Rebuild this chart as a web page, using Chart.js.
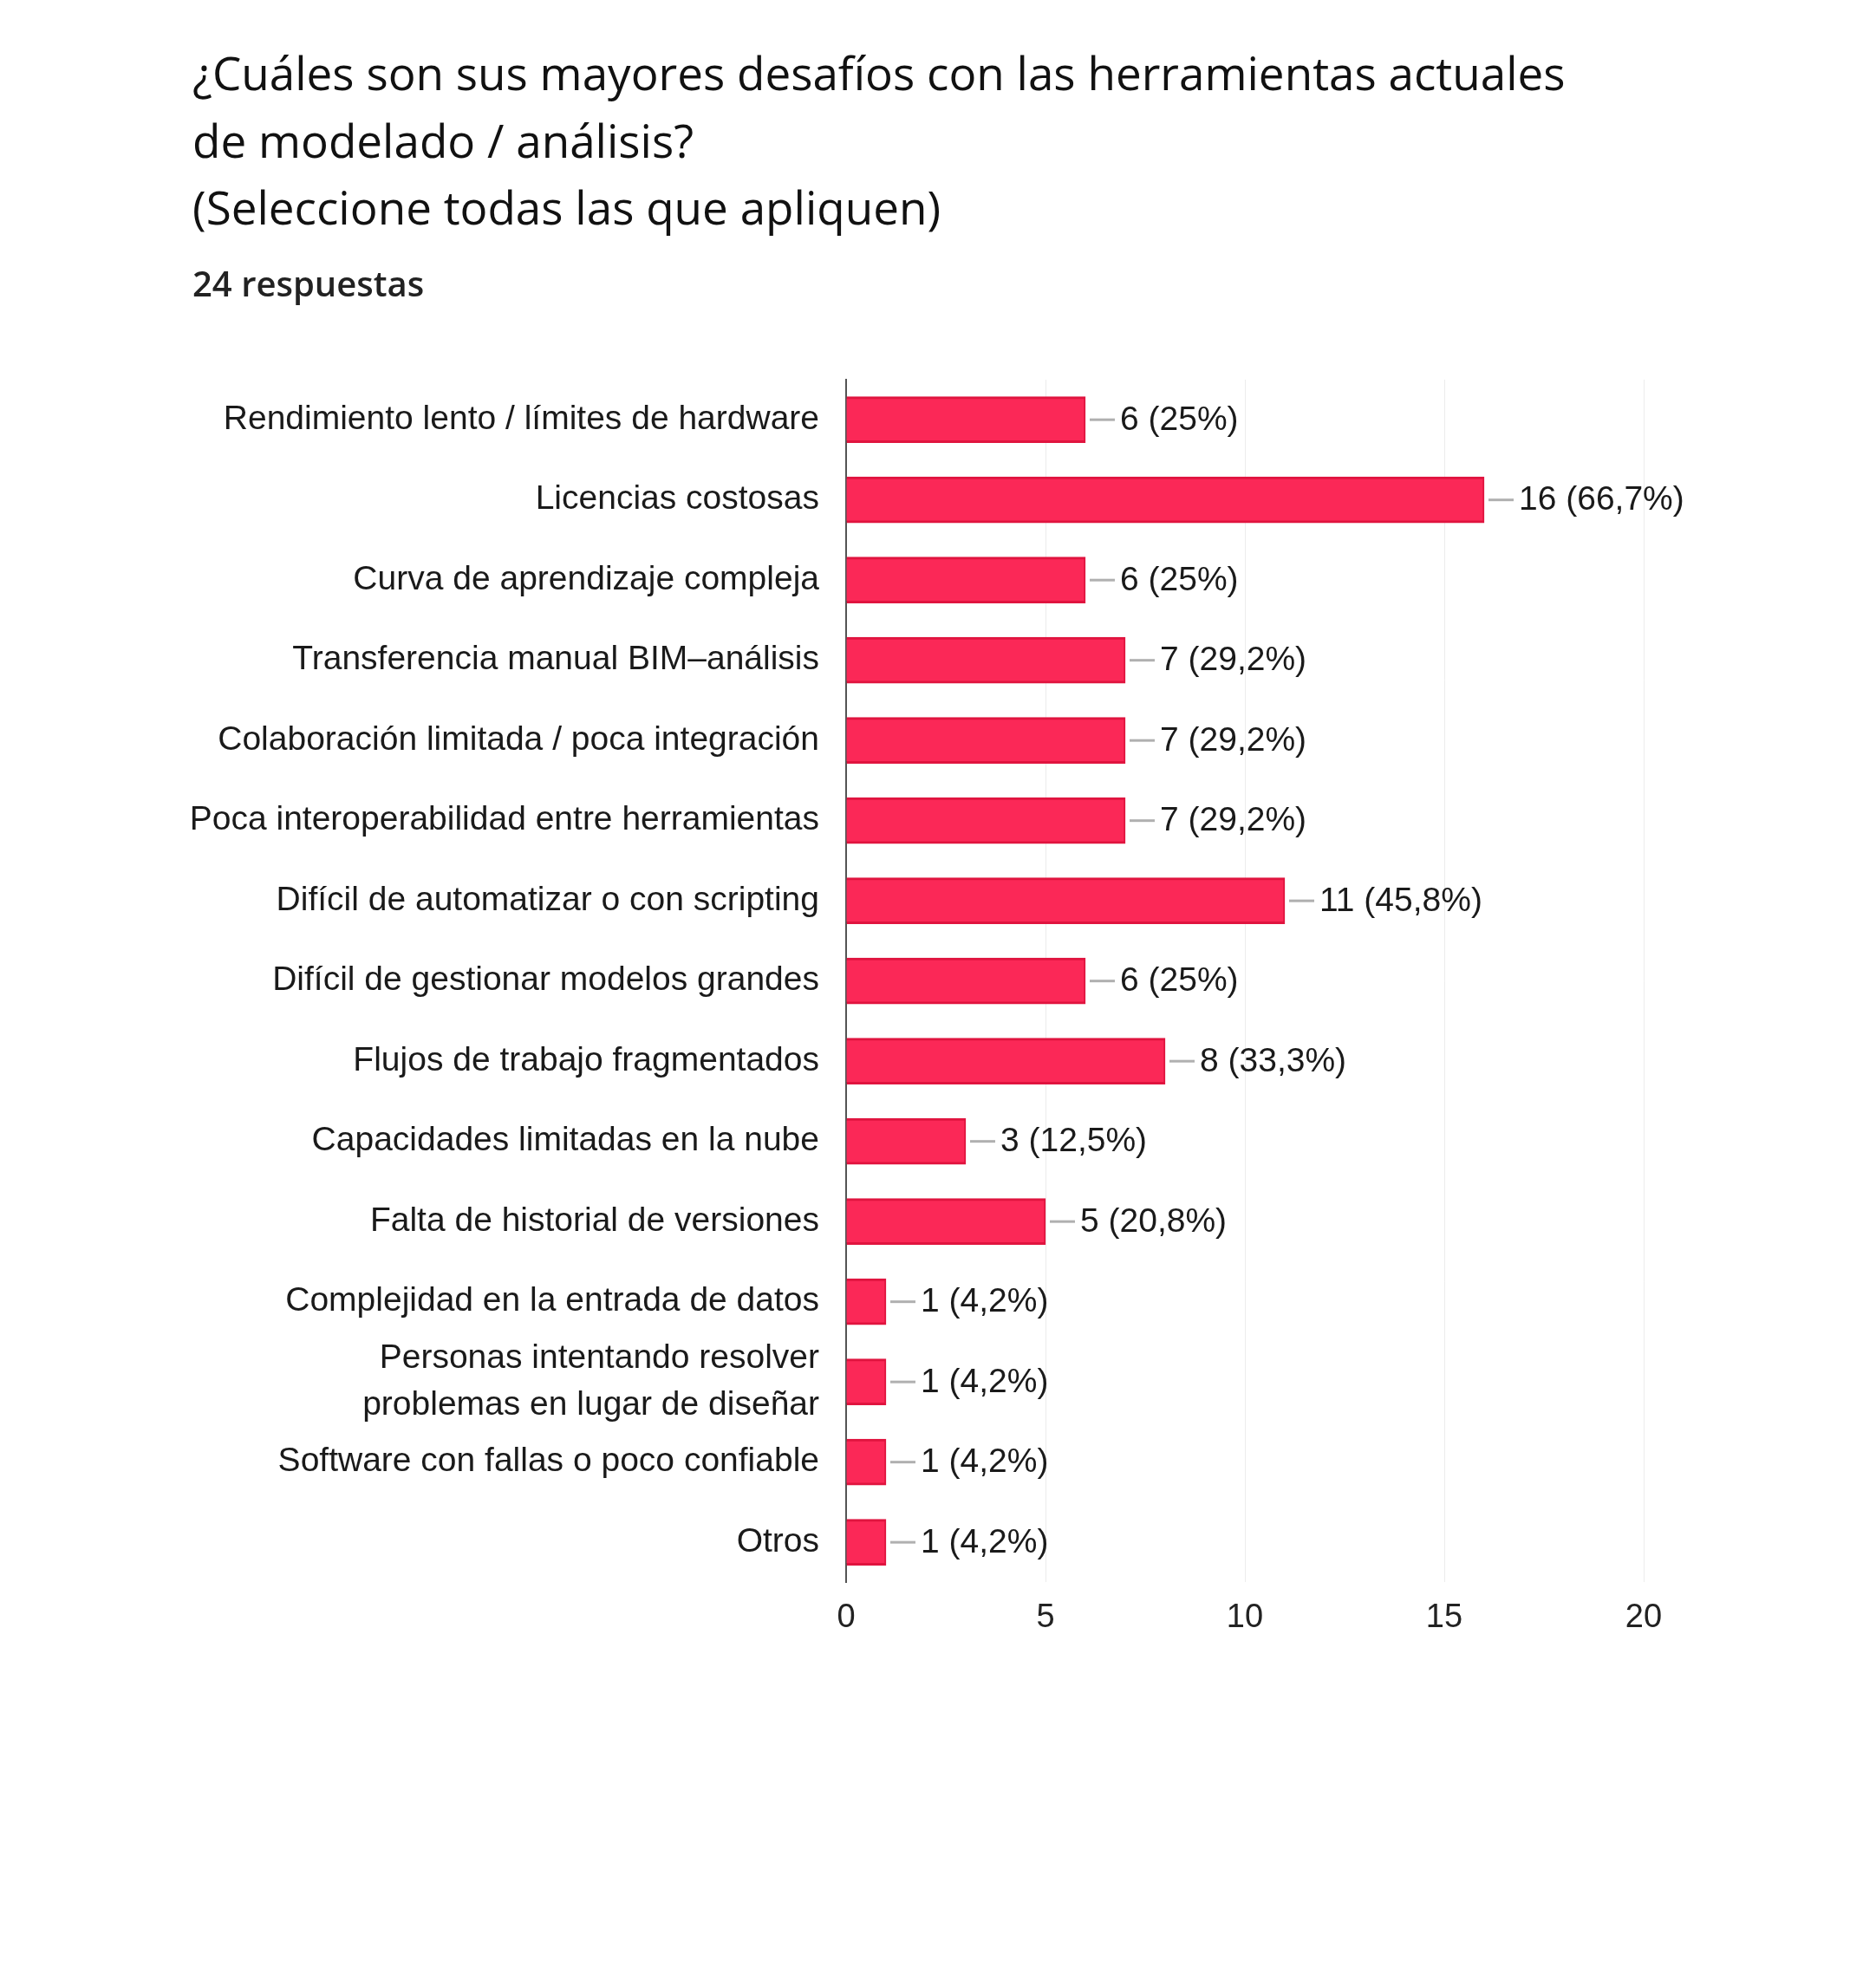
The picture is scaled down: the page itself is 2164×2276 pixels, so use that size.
<!DOCTYPE html>
<html lang="es">
<head>
<meta charset="utf-8">
<title>Desafíos con herramientas de modelado / análisis</title>
<script src="https://cdn.jsdelivr.net/npm/chart.js@4.4.1/dist/chart.umd.min.js"></script>
<style>
  html, body { margin: 0; padding: 0; background: #fff; }
  #wrap { position: relative; width: 2164px; height: 2276px; }
</style>
</head>
<body>
<div id="wrap"><canvas id="chart"></canvas></div>
<script>
const titleLines = [
  "¿Cuáles son sus mayores desafíos con las herramientas actuales",
  "de modelado / análisis?",
  "(Seleccione todas las que apliquen)"
];
const totalResponses = 24;

const categories = [
  "Rendimiento lento / límites de hardware",
  "Licencias costosas",
  "Curva de aprendizaje compleja",
  "Transferencia manual BIM–análisis",
  "Colaboración limitada / poca integración",
  "Poca interoperabilidad entre herramientas",
  "Difícil de automatizar o con scripting",
  "Difícil de gestionar modelos grandes",
  "Flujos de trabajo fragmentados",
  "Capacidades limitadas en la nube",
  "Falta de historial de versiones",
  "Complejidad en la entrada de datos",
  ["Personas intentando resolver", "problemas en lugar de diseñar"],
  "Software con fallas o poco confiable",
  "Otros"
];
const counts = [6, 16, 6, 7, 7, 7, 11, 6, 8, 3, 5, 1, 1, 1, 1];
const xTicks = [0, 5, 10, 15, 20];

const LABEL_FONT = "Liberation Sans, Arial, sans-serif";

function pctText(v) {
  const p = Number((v / totalResponses * 100).toFixed(1));
  return `${v} (${String(p).replace(".", ",")}%)`;
}

// leader line + "n (p%)" after each bar
const valueLabels = {
  id: "valueLabels",
  afterDatasetsDraw(chart) {
    const { ctx } = chart;
    const meta = chart.getDatasetMeta(0);
    ctx.save();
    ctx.font = `39px ${LABEL_FONT}`;
    ctx.textAlign = "left";
    ctx.textBaseline = "middle";
    meta.data.forEach((bar, i) => {
      const x = bar.x;
      const y = bar.y;
      ctx.strokeStyle = "#b0b0b0";
      ctx.lineWidth = 3;
      ctx.beginPath();
      ctx.moveTo(x + 5, y);
      ctx.lineTo(x + 34, y);
      ctx.stroke();
      ctx.fillStyle = "#1a1a1a";
      ctx.fillText(pctText(counts[i]), x + 40, y + 1);
    });
    ctx.restore();
  }
};

new Chart(document.getElementById("chart"), {
  type: "bar",
  data: {
    labels: categories,
    datasets: [{
      data: counts,
      backgroundColor: "#fb2857",
      borderColor: "#e0143f",
      borderWidth: { top: 3, bottom: 3, right: 2, left: 0 },
      borderSkipped: "start",
      barThickness: 53
    }]
  },
  options: {
    indexAxis: "y",
    responsive: true,
    maintainAspectRatio: false,
    animation: false,
    layout: { padding: { left: 222, right: 268, top: 0, bottom: 369 } },
    plugins: {
      legend: { display: false },
      tooltip: { enabled: false },
      title: {
        display: true,
        text: titleLines,
        align: "start",
        color: "#111",
        font: { family: "Open Sans, Noto Sans, sans-serif", size: 53, weight: "500", lineHeight: 1.465 },
        padding: { top: 50, bottom: 18 }
      },
      subtitle: {
        display: true,
        text: totalResponses + " respuestas",
        align: "start",
        color: "#222",
        font: { family: "Open Sans, Noto Sans, sans-serif", size: 40, weight: "600", lineHeight: 1.2 },
        padding: { top: 6, bottom: 83 }
      }
    },
    scales: {
      x: {
        min: 0,
        max: 20,
        afterBuildTicks(scale) {
          scale.ticks = xTicks.map((v) => ({ value: v }));
        },
        grid: { color: "#ececec", lineWidth: 1, drawTicks: false },
        border: { display: false },
        ticks: {
          color: "#222",
          padding: 18,
          font: { family: LABEL_FONT, size: 38 }
        }
      },
      y: {
        afterFit(scale) {
          scale.width = 754;
        },
        grid: { display: false, drawTicks: false },
        border: { display: true, color: "#555", width: 2 },
        ticks: {
          color: "#1a1a1a",
          padding: 31,
          autoSkip: false,
          font: { family: LABEL_FONT, size: 39, lineHeight: 1.4 }
        }
      }
    }
  },
  plugins: [valueLabels]
});
</script>
</body>
</html>
